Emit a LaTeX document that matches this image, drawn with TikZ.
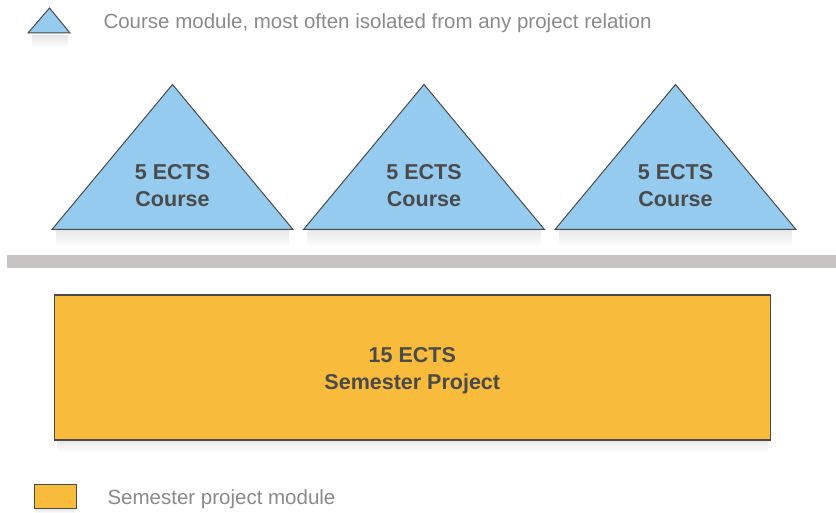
\documentclass[tikz,border=0pt]{standalone}
\usepackage{fontspec}
\setmainfont{Liberation Sans}
\usetikzlibrary{positioning}
\definecolor{coursefill}{HTML}{94CBEF}
\definecolor{projfill}{HTML}{F9BB3B}
\definecolor{edgegray}{HTML}{4A4A4A}
\definecolor{bargray}{HTML}{C8C4C4}
\definecolor{textdark}{HTML}{4A4A4A}
\definecolor{textlight}{HTML}{8A8A8A}
\tikzset{
  coursetri/.style={fill=coursefill, draw=edgegray, line width=1pt, line join=miter},
  projbox/.style={fill=projfill, draw=edgegray, line width=1.6pt},
  shadowband/.style={top color=black!9, bottom color=white, draw=none},
  inlabel/.style={text=textdark, font=\fontsize{21.5}{27}\selectfont\bfseries, align=center},
  legendlabel/.style={text=textlight, font=\fontsize{20.5}{24}\selectfont, anchor=west},
}
\begin{document}
\begin{tikzpicture}[x=1pt, y=-1pt]
\useasboundingbox (0,0) rectangle (836,513);
% legend triangle
\shade[shadowband] (32,36) rectangle (68,48);
\draw[coursetri] (28,33) -- (49.5,8) -- (70,33) -- cycle;
\node[legendlabel] (legtri) at (100,23) {Course module, most often isolated from any project relation};
% triangles
\foreach \i/\dx in {1/0, 2/251.5, 3/503} {
  \shade[shadowband] (56+\dx,231) rectangle (289+\dx,246);
  \draw[coursetri] (52+\dx,229.5) -- (172.5+\dx,84.5) -- (293+\dx,229.5) -- cycle;
  \node[inlabel] (tri\i) at (172.5+\dx,186) {5 ECTS\\Course};
}
% separator bar
\fill[bargray] (7,255) rectangle (836,268.5);
% project box
\shade[shadowband] (57,440) rectangle (768,452);
\node[projbox, minimum width=716pt, minimum height=144.5pt, anchor=north west, inner sep=0pt] (proj) at (53.5,294.5) {};
\node[inlabel] (projlabel) at ([yshift=-3pt]proj.center) {15 ECTS\\Semester Project};
% legend rect
\shade[shadowband] (35,509) rectangle (75,513);
\node[projbox, line width=1.3pt, minimum width=42pt, minimum height=24.5pt, anchor=north west, inner sep=0pt] (legbox) at (33.5,483.5) {};
\node[legendlabel] (legproj) at (104,499) {Semester project module};
\end{tikzpicture}
\end{document}
